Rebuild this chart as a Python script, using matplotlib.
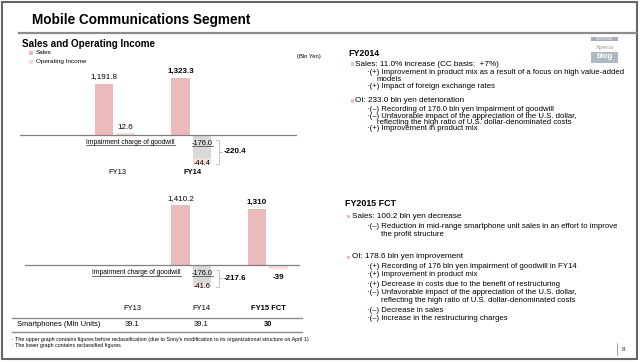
import matplotlib
matplotlib.use('Agg')
import matplotlib.pyplot as plt
from matplotlib.patches import Rectangle
from matplotlib.lines import Line2D

plt.rcParams['font.family'] = ['Liberation Sans', 'DejaVu Sans']

# ---------------- data ----------------
upper_years = ["FY13", "FY14"]
upper_sales = [1191.8, 1323.3]
upper_oi = [12.6, -220.4]
upper_impairment = [0.0, -176.0]

lower_years = ["FY13", "FY14", "FY15 FCT"]
lower_sales = [None, 1410.2, 1310.0]
lower_oi = [None, -217.6, -39.0]
lower_impairment = [0.0, -176.0, 0.0]
lower_decimals = [1, 1, 0]

smartphone_units = [39.1, 39.1, 30]
smartphone_labels = ["39.1", "39.1", "30"]

# ---------------- styles ----------------
W, H = 640, 362
SALES_C = '#EBBABA'
OI_C = '#F9DCDC'
IMP_C = '#D9D9D9'
BULLET_C = '#F2BCC4'

fig = plt.figure(figsize=(W / 100, H / 100), dpi=100)
fig.patch.set_facecolor('white')


def fx(x):
    return x / W


def fy(y):
    return 1 - y / H


def T(x, y, s, size=5, weight='normal', ha='left', va='center', color='black', **kw):
    return fig.text(fx(x), fy(y), s, fontsize=size, fontweight=weight, ha=ha, va=va,
                    color=color, **kw)


def hline(x0, x1, y, color='#888888', lw=1.0):
    fig.add_artist(Line2D([fx(x0), fx(x1)], [fy(y), fy(y)], color=color, lw=lw,
                          transform=fig.transFigure))


def vline(x, y0, y1, color='#888888', lw=1.0):
    fig.add_artist(Line2D([fx(x), fx(x)], [fy(y0), fy(y1)], color=color, lw=lw,
                          transform=fig.transFigure))


def box(x0, y0, x1, y1, color, **kw):
    fig.add_artist(Rectangle((fx(x0), fy(y1)), fx(x1) - fx(x0), fy(y0) - fy(y1),
                             transform=fig.transFigure, facecolor=color,
                             edgecolor='none', **kw))


underlined = []

# ---------------- frame & title ----------------
fig.add_artist(Rectangle((fx(1.5), fy(359)), fx(637) - fx(1.5), fy(1.5) - fy(359),
                         transform=fig.transFigure, fill=False, edgecolor='#666666', lw=1.5))
T(32, 20, "Mobile Communications Segment", size=9.8, weight='bold')
hline(19, 636, 32.5, color='#8C8C8C', lw=1.6)

# watermark
box(591, 36.5, 618, 41, '#A3ACB8')
T(604.5, 38.8, "UNOFFICIAL", size=2.2, ha='center', color='white')
T(604.5, 47.5, "Xperia", size=4.6, ha='center', color='#A0A0A0')
box(591, 51.5, 618, 62.5, '#AEB8C4')
T(604.5, 57, "blog", size=5.6, ha='center', color='white', weight='bold')

# page number
vline(617, 343, 355, color='#999999', lw=0.6)
T(623.5, 349.5, "8", size=4.5, ha='center', color='#333333')

# ---------------- left header ----------------
T(22, 44, "Sales and Operating Income", size=7.1, weight='bold')
box(29, 51, 33, 55, SALES_C)
T(36, 53, "Sales", size=4.6)
box(29, 60, 33, 64, OI_C)
T(36, 62, "Operating Income", size=4.6)
T(297, 56.5, "(Bln Yen)", size=4.2)

# ---------------- bar charts ----------------
X0, STEP, OI_OFF, BW = 104.0, 76.5, 21.5, 18.5


def make_axes(top, bottom, base, ks, ko):
    ax = fig.add_axes([fx(20), fy(bottom), fx(300) - fx(20), (bottom - top) / H])
    ax.set_xlim(20, 300)
    ax.set_ylim(-(bottom - base) / ks, (base - top) / ks)
    ax.axis('off')
    ax2 = ax.twinx()
    ax2.set_ylim(-(bottom - base) / ko, (base - top) / ko)
    ax2.axis('off')
    return ax, ax2


def draw_chart(ax, ax2, sales, oi, imp, decimals, bold_idx, ko, base_x0, base_x1,
               imp_label_x, imp_label_y):
    for i, (s, o, m) in enumerate(zip(sales, oi, imp)):
        xc = X0 + i * STEP
        xo = xc + OI_OFF
        if s is not None:
            ax.bar(xc, s, width=BW, color=SALES_C, zorder=2)
            fmt = "{:,.%df}" % decimals[i]
            ax.annotate(fmt.format(s), (xc, s), xytext=(0, 5), textcoords='offset points',
                        ha='center', va='center', fontsize=5.8,
                        fontweight='bold' if i == bold_idx else 'normal')
        if o is None:
            continue
        if m != 0:
            rest = o - m
            ax2.bar(xo, m, width=BW, color=IMP_C, zorder=2)
            ax2.bar(xo, rest, bottom=m, width=BW, color=OI_C, zorder=2)
            t = ax2.annotate("{:.1f}".format(m), (xo, 0), xytext=(0, -5.8),
                             textcoords='offset points', ha='center', va='center',
                             fontsize=5.3)
            underlined.append(t)
            ax2.annotate("{:.1f}".format(rest), (xo, o), xytext=(0, 0),
                         textcoords='offset points', ha='center', va='center',
                         fontsize=5.3)
            # bracket
            bx = xo + 17
            top = -4.5 / ko
            ax2.plot([bx - 3, bx, bx, bx - 3], [top, top, o, o], color='#BBBBBB',
                     lw=0.6, zorder=3)
            mid = (top + o) / 2
            ax2.plot([bx, bx + 3], [mid, mid], color='#BBBBBB', lw=0.6, zorder=3)
            fmt = "{:.%df}" % decimals[i]
            ax2.annotate(fmt.format(o), (bx + 5, mid), ha='left', va='center',
                         fontsize=5.8, fontweight='bold')
            tt = T(imp_label_x, imp_label_y, "Impairment charge of goodwill", size=4.75)
            underlined.append(tt)
        else:
            ax2.bar(xo, o, width=BW, color=OI_C, zorder=2)
            fmt = "{:.%df}" % decimals[i]
            if o >= 0:
                ax2.annotate(fmt.format(o), (xo, o), xytext=(0, 4.5),
                             textcoords='offset points', ha='center', va='center',
                             fontsize=5.8)
            else:
                ax2.annotate(fmt.format(o), (xo, o), xytext=(0, -6),
                             textcoords='offset points', ha='center', va='center',
                             fontsize=5.8, fontweight='bold')
    ax2.plot([base_x0, base_x1], [0, 0], color='#808080', lw=0.9, zorder=4)


# upper chart
axU, axU2 = make_axes(62, 180, 135, 0.0428, 0.13)
draw_chart(axU, axU2, upper_sales, upper_oi, upper_impairment, [1, 1], 1, 0.13,
           20, 296, 86, 143)
for i, lab in enumerate(upper_years):
    T(X0 + 13 + i * 75.5, 172, lab, size=5.4, ha='center',
      weight='bold' if i == len(upper_years) - 1 else 'normal')

# lower chart
axL, axL2 = make_axes(190, 300, 265, 0.0425, 0.10)
draw_chart(axL, axL2, lower_sales, lower_oi, lower_impairment, lower_decimals, 2, 0.10,
           25, 299, 92, 273)

# ---------------- table ----------------
col_x = [132, 201, 268]
for i, lab in enumerate(lower_years):
    T(col_x[i], 309, lab, size=5.4, ha='center',
      weight='bold' if i == len(lower_years) - 1 else 'normal')
hline(12, 302, 318, color='#8C8C8C', lw=1.0)
T(17, 325, "Smartphones (Mln Units)", size=5.4)
for i, lab in enumerate(smartphone_labels):
    T(col_x[i], 325, lab, size=5.4, ha='center',
      weight='bold' if i == len(smartphone_labels) - 1 else 'normal')
hline(12, 302, 332, color='#8C8C8C', lw=1.0)

T(12, 340, "· The upper graph contains figures before reclassification (due to Sony's "
           "modification to its organizational structure on April 1)", size=3.8)
T(12, 345, "· The lower graph contains reclassified figures", size=3.8)

# ---------------- right text ----------------
SUB = 5.55
MAIN = 5.9
T(348, 53, "FY2014", size=6.4, weight='bold')
box(350.5, 62.5, 353.5, 65.5, BULLET_C)
T(355, 64, "Sales: 11.0% increase (CC basis:  +7%)", size=MAIN)
T(367, 73, "·(+) Improvement in product mix as a result of a focus on high value-added", size=SUB)
T(377, 79.5, "models", size=SUB)
T(367, 86, "·(+) Impact of foreign exchange rates", size=SUB)
box(350.5, 99.5, 353.5, 102.5, BULLET_C)
T(355, 101, "OI: 233.0 bln yen deterioration", size=MAIN)
T(367, 109, "·(–) Recording of 176.0 bln yen impairment of goodwill", size=SUB)
T(367, 116, "·(–) Unfavorable impact of the appreciation of the U.S. dollar,", size=SUB)
T(377, 122.5, "reflecting the high ratio of U.S. dollar-denominated costs", size=SUB)
T(367, 129, "·(+) Improvement in product mix", size=SUB)

T(345, 204, "FY2015 FCT", size=6.4, weight='bold')
box(346.5, 214.5, 349.5, 217.5, BULLET_C)
T(352, 216, "Sales: 100.2 bln yen decrease", size=MAIN)
T(367, 227, "·(–) Reduction in mid-range smartphone unit sales in an effort to improve", size=SUB)
T(381, 235, "the profit structure", size=SUB)
box(346.5, 255.5, 349.5, 258.5, BULLET_C)
T(352, 257, "OI: 178.6 bln yen improvement", size=MAIN)
T(367, 267, "·(+) Recording of 176 bln yen impairment of goodwill in FY14", size=SUB)
T(367, 275, "·(+) Improvement in product mix", size=SUB)
T(367, 284, "·(+) Decrease in costs due to the benefit of restructuring", size=SUB)
T(367, 292, "·(–) Unfavorable impact of the appreciation of the U.S. dollar,", size=SUB)
T(381, 301, "reflecting the high ratio of U.S. dollar-denominated costs", size=SUB)
T(367, 310, "·(–) Decrease in sales", size=SUB)
T(367, 318, "·(–) Increase in the restructuring charges", size=SUB)

# ---------------- underlines ----------------
fig.canvas.draw()
r = fig.canvas.get_renderer()
for t in underlined:
    bb = t.get_window_extent(renderer=r)
    y = (bb.y0 + 1.0) / H
    fig.add_artist(Line2D([bb.x0 / W, bb.x1 / W], [y, y], color='#333333', lw=0.5,
                          transform=fig.transFigure))

fig.savefig('out.png', dpi=100, facecolor='white')
